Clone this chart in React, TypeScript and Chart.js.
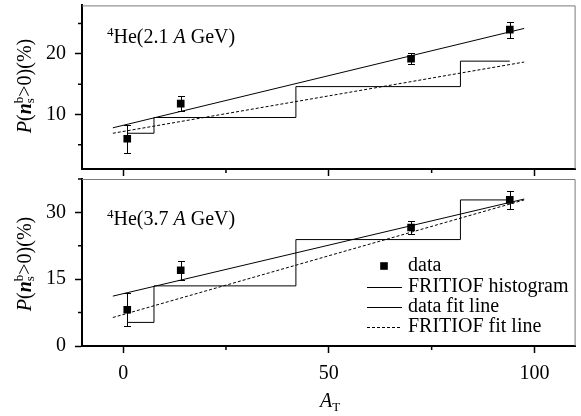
import React, { useEffect, useRef } from 'react';
import { Chart, registerables } from 'chart.js';
Chart.register(...registerables);

const FONT = "'Liberation Serif', 'Times New Roman', serif";

// ticks
const xMajor = [0, 50, 100];
const xMinor = [25, 75];
const topYMajor = [10, 20];
const topYMinor = [5, 15, 25];
const botYMajor = [0, 15, 30];
const botYMinor = [7.5, 22.5, 37.5];

// shared x positions
const dataX = [1, 14, 70, 94];
const histX = [1, 7.5, 42, 82, 94];
const fitX = [-2.5, 97.5];

// 4He (2.1 A GeV)
const topDataY = [6.0, 11.8, 19.2, 24.0];
const topDataErr = [2.3, 1.3, 0.9, 1.3];
const topHistY = [6.9, 9.5, 14.6, 18.8, 18.8];
const topDataFitY = [7.8, 24.2];
const topSimFitY = [6.9, 18.65];

// 4He (3.7 A GeV)
const botDataY = [8.15, 17.0, 26.6, 32.8];
const botDataErr = [3.65, 2.1, 1.5, 2.1];
const botHistY = [5.3, 13.5, 23.9, 32.8, 32.8];
const botDataFitY = [11.2, 33.0];
const botSimFitY = [6.4, 32.8];

const legendLabels = ['data', 'FRITIOF histogram', 'data fit line', 'FRITIOF fit line'];

type PanelCfg = {
  yMin: number; yMax: number; yMajor: number[]; yMinor: number[];
  dataY: number[]; err: number[]; histY: number[]; dataFitY: number[]; simFitY: number[];
  xHeight: number; padTop: number; showXLabels: boolean; legend: boolean; offsetTop: number;
};

function makeDecor(c: PanelCfg) {
  return {
    id: 'decor',
    afterDatasetsDraw(chart: any) {
      const { ctx, chartArea } = chart;
      const { left, right, top, bottom } = chartArea;
      const x = chart.scales.x, y = chart.scales.y;
      ctx.save();
      // error bars
      ctx.strokeStyle = '#000';
      ctx.lineWidth = 1;
      dataX.forEach((xv, i) => {
        const px = Math.round(x.getPixelForValue(xv)) + 0.5;
        const y1 = Math.round(y.getPixelForValue(c.dataY[i] + c.err[i])) + 0.5;
        const y2 = Math.round(y.getPixelForValue(c.dataY[i] - c.err[i])) + 0.5;
        ctx.beginPath();
        ctx.moveTo(px, y1); ctx.lineTo(px, y2);
        ctx.moveTo(px - 3.5, y1); ctx.lineTo(px + 3.5, y1);
        ctx.moveTo(px - 3.5, y2); ctx.lineTo(px + 3.5, y2);
        ctx.stroke();
      });
      // frame top/right
      ctx.strokeStyle = '#7a7a7a';
      ctx.lineWidth = 1;
      ctx.beginPath();
      ctx.moveTo(left, top + 0.5);
      ctx.lineTo(right - 0.5, top + 0.5);
      ctx.lineTo(right - 0.5, bottom);
      ctx.stroke();
      // minor ticks
      ctx.strokeStyle = '#000';
      ctx.lineWidth = 1.5;
      ctx.beginPath();
      xMinor.forEach((v) => {
        const px = x.getPixelForValue(v);
        ctx.moveTo(px, bottom); ctx.lineTo(px, bottom + 4);
      });
      c.yMinor.forEach((v) => {
        const py = y.getPixelForValue(v);
        ctx.moveTo(left, py); ctx.lineTo(left - 4, py);
      });
      ctx.stroke();
      // legend
      if (c.legend) {
        const off = c.offsetTop;
        const rows = [266, 286.7, 306.7, 326.7].map((v) => v - off);
        const lx1 = 367, lx2 = 402, tx = 408;
        ctx.fillStyle = '#000';
        ctx.fillRect(384 - 3.8, rows[0] - 3.8, 7.6, 7.6);
        ctx.lineWidth = 1;
        [1, 2, 3].forEach((r) => {
          ctx.beginPath();
          ctx.setLineDash(r === 3 ? [3, 2] : []);
          ctx.moveTo(lx1, Math.round(rows[r]) + 0.5);
          ctx.lineTo(lx2, Math.round(rows[r]) + 0.5);
          ctx.stroke();
        });
        ctx.setLineDash([]);
        ctx.font = `20px ${FONT}`;
        ctx.textBaseline = 'middle';
        ctx.textAlign = 'left';
        legendLabels.forEach((t, i) => ctx.fillText(t, tx, rows[i]));
      }
      ctx.restore();
    },
  };
}

function makeConfig(c: PanelCfg): any {
  const pts = (xs: number[], ys: number[]) => xs.map((x, i) => ({ x, y: ys[i] }));
  return {
    type: 'line',
    data: {
      datasets: [
        {
          label: legendLabels[0], data: pts(dataX, c.dataY), showLine: false,
          pointStyle: 'rect', pointRadius: 5.4, backgroundColor: '#000', borderColor: '#000', borderWidth: 0,
        },
        {
          label: legendLabels[1], data: pts(histX, c.histY), stepped: 'before',
          borderColor: '#000', borderWidth: 1, pointRadius: 0, fill: false,
        },
        {
          label: legendLabels[2], data: pts(fitX, c.dataFitY),
          borderColor: '#000', borderWidth: 1, pointRadius: 0, fill: false,
        },
        {
          label: legendLabels[3], data: pts(fitX, c.simFitY),
          borderColor: '#000', borderWidth: 1, borderDash: [3, 2], pointRadius: 0, fill: false,
        },
      ],
    },
    options: {
      responsive: false,
      animation: false,
      devicePixelRatio: 1,
      layout: { padding: { left: 0, right: 3, top: c.padTop, bottom: 0 } },
      plugins: { legend: { display: false }, tooltip: { enabled: false }, title: { display: false } },
      scales: {
        x: {
          type: 'linear', min: -10, max: 110,
          afterBuildTicks: (s: any) => {
            s.ticks = [...xMajor, ...xMinor].sort((a, b) => a - b).map((v) => ({ value: v }));
          },
          afterFit: (s: any) => { s.height = c.xHeight; s.paddingLeft = 0; s.paddingRight = 0; },
          ticks: {
            autoSkip: false, maxRotation: 0, padding: 9, color: '#000',
            font: { family: FONT, size: 20 },
            callback: (v: number) => (c.showXLabels && xMajor.includes(v) ? String(v) : ''),
          },
          grid: {
            drawOnChartArea: false, drawTicks: true, tickLength: 7, tickWidth: 1.5,
            tickColor: (ctx: any) => (ctx.tick && xMajor.includes(ctx.tick.value) ? '#000' : 'rgba(0,0,0,0)'),
          },
          border: { display: true, color: '#000', width: 2 },
        },
        y: {
          type: 'linear', min: c.yMin, max: c.yMax,
          afterBuildTicks: (s: any) => {
            s.ticks = [...c.yMajor, ...c.yMinor].sort((a, b) => a - b).map((v) => ({ value: v }));
          },
          afterFit: (s: any) => { s.width = 82; s.paddingTop = 0; s.paddingBottom = 0; },
          ticks: {
            autoSkip: false, padding: 9, color: '#000',
            font: { family: FONT, size: 20 },
            callback: (v: number) => (c.yMajor.includes(v) ? String(v) : ''),
          },
          grid: {
            drawOnChartArea: false, drawTicks: true, tickLength: 7, tickWidth: 1.5,
            tickColor: (ctx: any) => (ctx.tick && c.yMajor.includes(ctx.tick.value) ? '#000' : 'rgba(0,0,0,0)'),
          },
          border: { display: true, color: '#000', width: 2 },
        },
      },
    },
    plugins: [makeDecor(c)],
  };
}

const topCfg: PanelCfg = {
  yMin: 1, yMax: 28, yMajor: topYMajor, yMinor: topYMinor,
  dataY: topDataY, err: topDataErr, histY: topHistY, dataFitY: topDataFitY, simFitY: topSimFitY,
  xHeight: 9, padTop: 3, showXLabels: false, legend: false, offsetTop: 0,
};
const botCfg: PanelCfg = {
  yMin: 0, yMax: 37.5, yMajor: botYMajor, yMinor: botYMinor,
  dataY: botDataY, err: botDataErr, histY: botHistY, dataFitY: botDataFitY, simFitY: botSimFitY,
  xHeight: 70, padTop: 9, showXLabels: true, legend: true, offsetTop: 170,
};

const textBase: React.CSSProperties = {
  position: 'absolute', fontFamily: FONT, fontSize: 20, fontWeight: 400, color: '#000', whiteSpace: 'nowrap', lineHeight: '20px',
};

function YTitle({ cy }: { cy: number }) {
  return (
    <div style={{ ...textBase, left: 24, top: cy, transform: 'translate(-50%,-50%) rotate(-90deg)' }}>
      <i>P</i>(<b><i>n</i></b>
      <span style={{ display: 'inline-flex', flexDirection: 'column', fontSize: 13, lineHeight: '11px', verticalAlign: '8px' }}>
        <span>b</span><span>s</span>
      </span>
      &gt;0)(%)
    </div>
  );
}

function Note({ top, energy }: { top: number; energy: string }) {
  return (
    <div style={{ ...textBase, left: 107, top }}>
      <sup style={{ fontSize: 13, lineHeight: 0, verticalAlign: '7px' }}>4</sup>He({energy} <i>A</i> GeV)
    </div>
  );
}

export default function App() {
  const topRef = useRef<HTMLCanvasElement>(null);
  const botRef = useRef<HTMLCanvasElement>(null);
  useEffect(() => {
    const a = new Chart(topRef.current as HTMLCanvasElement, makeConfig(topCfg));
    const b = new Chart(botRef.current as HTMLCanvasElement, makeConfig(botCfg));
    return () => { a.destroy(); b.destroy(); };
  }, []);
  return (
    <div style={{ position: 'absolute', left: 0, top: 0, width: 581, height: 416, background: '#fff', overflow: 'hidden' }}>
      <canvas ref={topRef} width={581} height={178} style={{ position: 'absolute', left: 0, top: 0 }} />
      <canvas ref={botRef} width={581} height={246} style={{ position: 'absolute', left: 0, top: 170 }} />
      <Note top={26} energy="2.1" />
      <Note top={208} energy="3.7" />
      <YTitle cy={86} />
      <YTitle cy={264} />
      <div style={{ ...textBase, left: 330, top: 400, transform: 'translate(-50%,-50%)' }}>
        <i>A</i><sub style={{ fontSize: 13, lineHeight: 0, verticalAlign: '-4px' }}>T</sub>
      </div>
    </div>
  );
}
